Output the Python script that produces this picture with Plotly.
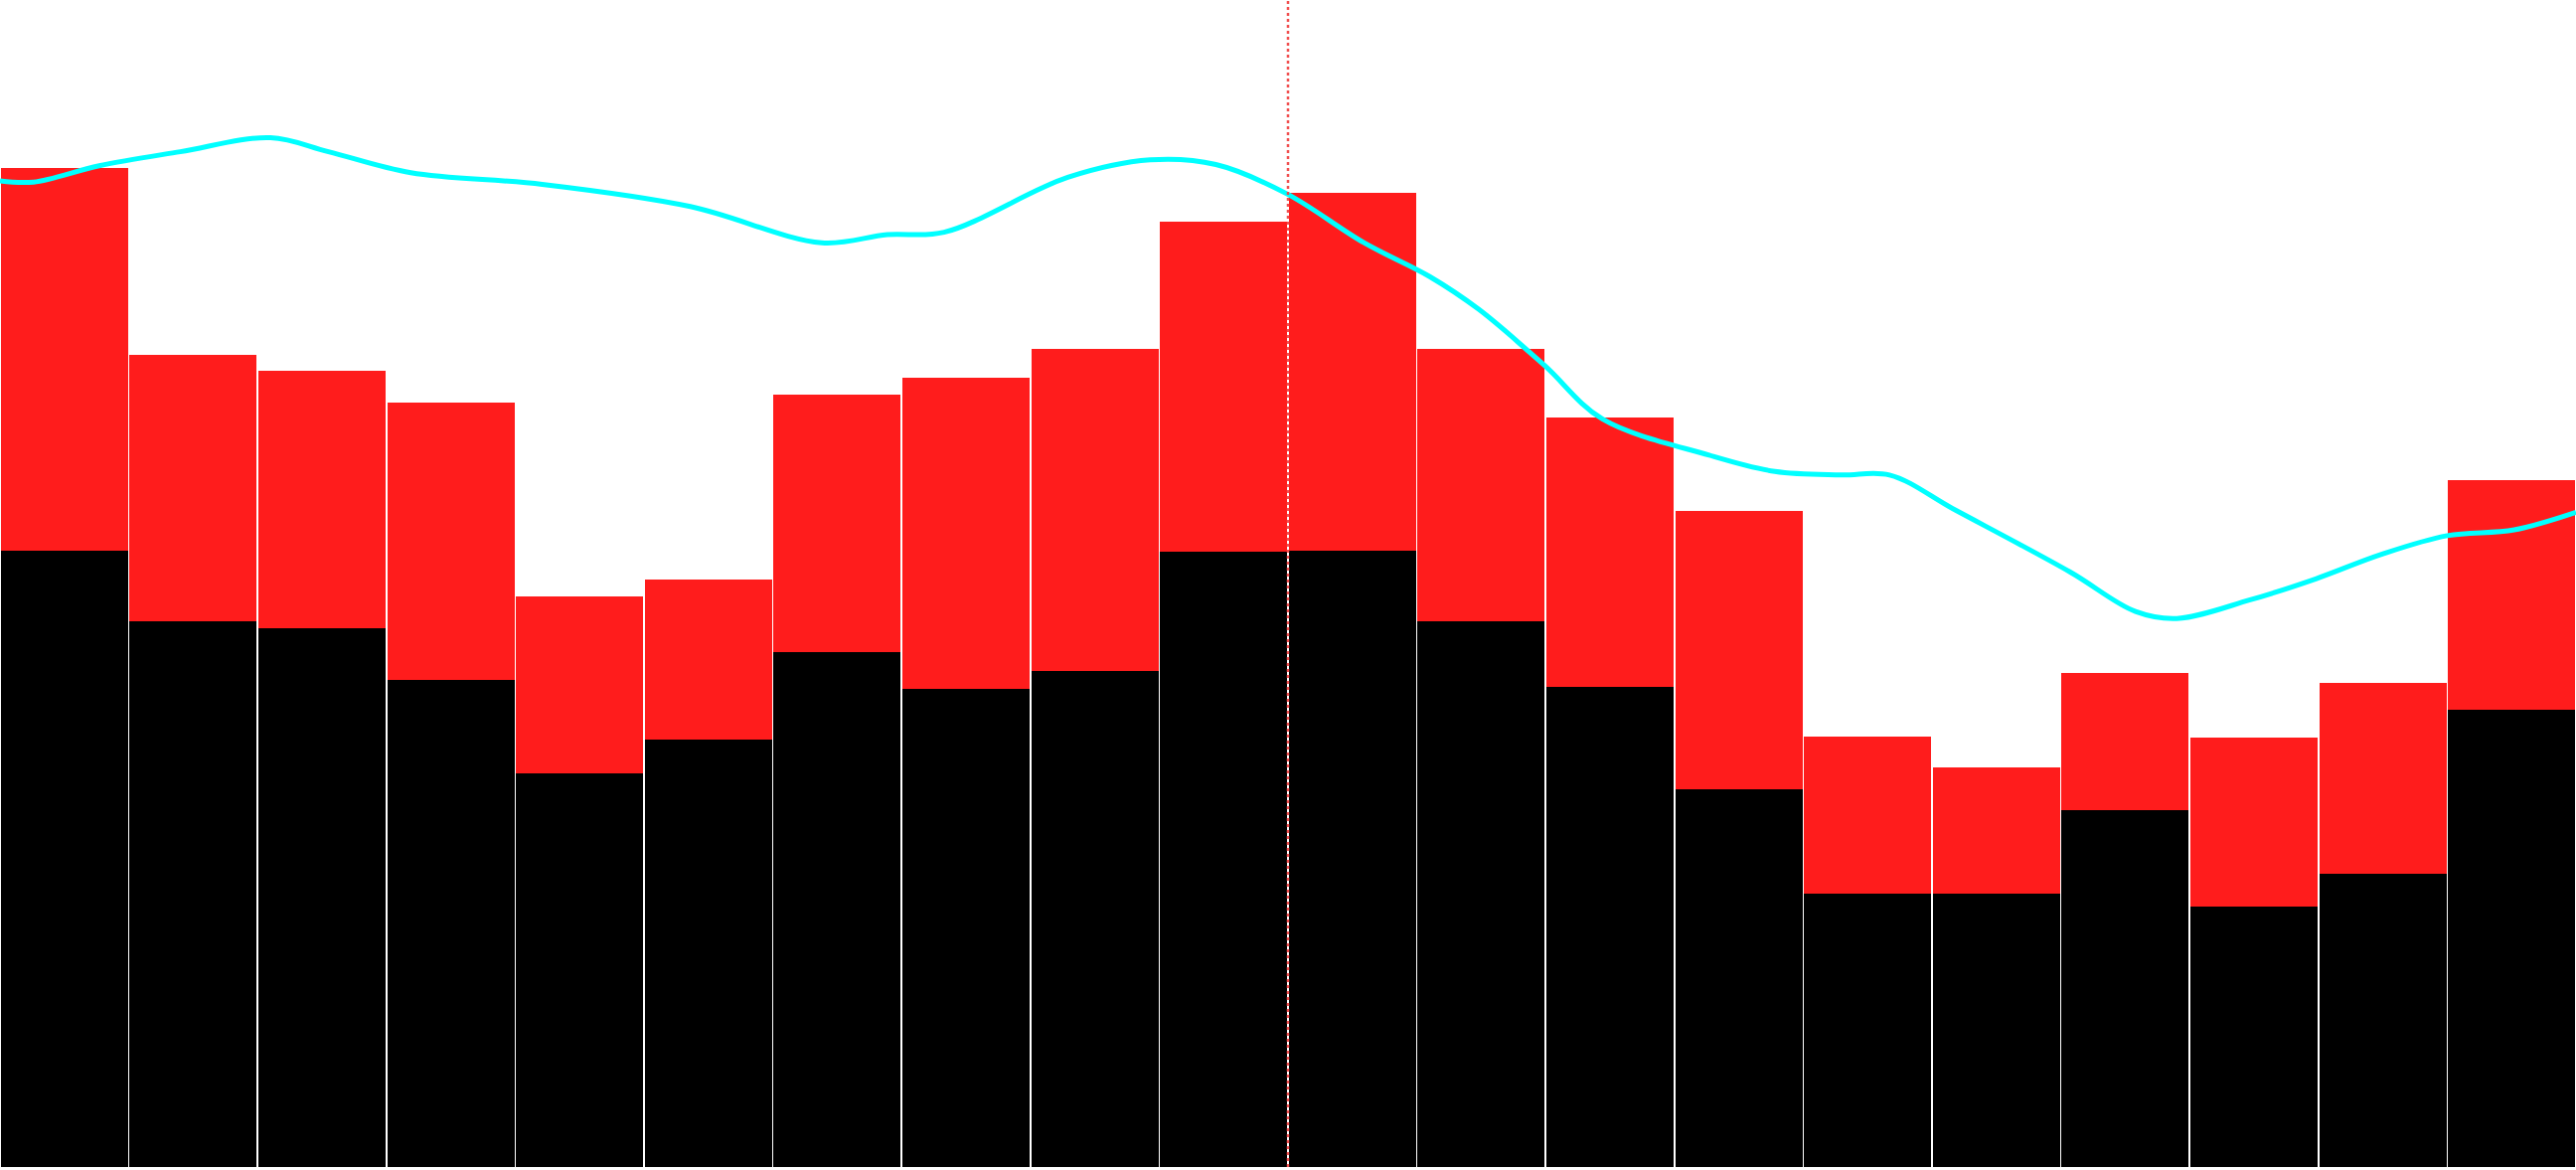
import plotly.graph_objects as go

categories = list(range(20))
black_values = [52.8, 46.8, 46.2, 41.7, 33.7, 36.6, 44.1, 41.0, 42.5, 52.7,
                52.8, 46.8, 41.1, 32.4, 23.4, 23.4, 30.6, 22.3, 25.1, 39.2]
red_values = [32.8, 22.8, 22.0, 23.8, 15.2, 13.7, 22.1, 26.6, 27.6, 28.3,
              30.7, 23.3, 23.1, 23.8, 13.5, 10.8, 11.7, 14.5, 16.4, 19.7]

line_x = [-0.5, -0.24, 0.27, 0.90, 1.60, 2.05, 2.69, 3.71, 4.86, 5.88, 6.39, 6.83,
          7.79, 8.43, 8.94, 9.49, 10.09, 10.60, 10.98, 11.49, 11.94, 12.77, 13.28,
          13.79, 14.17, 14.68, 15.57, 16.08, 16.40, 16.97, 17.48, 17.99, 18.50,
          19.02, 19.50]
line_y = [84.5, 84.4, 85.8, 87.0, 88.2, 87.0, 85.2, 84.2, 82.3, 79.2, 79.9, 80.1,
          84.8, 86.3, 85.9, 83.4, 79.2, 76.3, 73.5, 68.7, 64.1, 61.0, 59.6,
          59.3, 59.3, 56.3, 51.0, 47.6, 47.0, 48.6, 50.4, 52.5, 54.1,
          54.6, 56.1]

marker_x = 9.5

fig = go.Figure()
fig.add_trace(go.Bar(x=categories, y=black_values, marker=dict(color="#000000", line=dict(width=0)),
                     showlegend=False, hoverinfo="skip"))
fig.add_trace(go.Bar(x=categories, y=red_values, marker=dict(color="#ff1c1c", line=dict(width=0)),
                     showlegend=False, hoverinfo="skip"))
fig.add_trace(go.Scatter(x=line_x, y=line_y, mode="lines",
                         line=dict(color="#00ffff", width=5, shape="spline", smoothing=1.0),
                         showlegend=False, hoverinfo="skip"))
fig.add_shape(type="line", x0=marker_x, x1=marker_x, y0=0, y1=1, yref="paper", xref="x",
              line=dict(color="rgba(240,70,70,0.95)", width=2.5, dash="dot"), layer="above")

fig.update_layout(
    width=2592, height=1177,
    margin=dict(l=0, r=0, t=0, b=3),
    barmode="stack", bargap=0.012,
    plot_bgcolor="white", paper_bgcolor="white",
    xaxis=dict(range=[-0.5, 19.5], visible=False, showgrid=False, zeroline=False),
    yaxis=dict(range=[0, 100], visible=False, showgrid=False, zeroline=False),
)
fig.write_html("out.html", config={"displayModeBar": False},
               post_script="document.body.style.margin='0';document.body.style.overflow='hidden';")
